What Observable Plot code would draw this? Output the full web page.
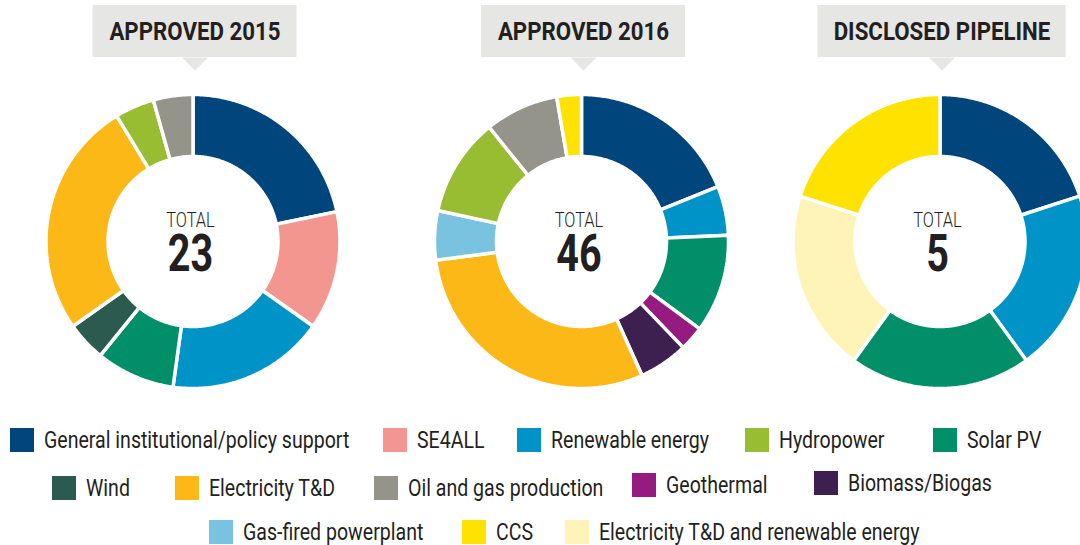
<!DOCTYPE html>
<html><head><meta charset="utf-8">
<script src="https://cdn.jsdelivr.net/npm/d3@7"></script>
<script src="https://cdn.jsdelivr.net/npm/@observablehq/plot@0.6"></script>
<style>
html,body{margin:0;padding:0;background:#fff;}
#wrap{position:relative;width:1080px;height:545px;overflow:hidden;font-family:Roboto,"Liberation Sans",sans-serif;color:#231f20;}
#chart{position:absolute;left:0;top:0;}
.item{position:absolute;height:24px;}
.sw{position:absolute;left:0;top:0;width:24px;height:24px;}
.lab{position:absolute;left:34px;top:-2px;font-size:23px;line-height:30px;white-space:nowrap;transform:scaleX(0.85);transform-origin:0 50%;}
</style></head><body>
<div id="wrap"><div id="chart"></div><div id="legend"></div></div>
<script>
// ---- data ----
const categories = ["General institutional/policy support","SE4ALL","Renewable energy","Hydropower","Solar PV",
  "Wind","Electricity T&D","Oil and gas production","Geothermal","Biomass/Biogas",
  "Gas-fired powerplant","CCS","Electricity T&D and renewable energy"];
const categoryColors = ["#00457c","#f3968f","#0093c8","#98bd33","#008f68",
  "#2b5a4e","#fbb817","#94948a","#951b81","#3d2050",
  "#79c3e0","#ffe200","#fff4b8"];
const panelTitles = ["APPROVED 2015","APPROVED 2016","DISCLOSED PIPELINE"];
const panelTotals = [23, 46, 5];
const cats2015 = ["General institutional/policy support","SE4ALL","Renewable energy","Solar PV","Wind","Electricity T&D","Hydropower","Oil and gas production"];
const vals2015 = [5, 3, 4, 2, 1, 6, 1, 1];
const cats2016 = ["General institutional/policy support","Renewable energy","Solar PV","Geothermal","Biomass/Biogas","Electricity T&D","Gas-fired powerplant","Hydropower","Oil and gas production","CCS"];
const vals2016 = [7, 2, 4, 1, 2, 11, 2, 4, 3, 1];
const catsPipe = ["General institutional/policy support","Renewable energy","Solar PV","Electricity T&D and renewable energy","CCS"];
const valsPipe = [1, 1, 1, 1, 1];

// ---- layout ----
const W = 1080, H = 410;
const centersX = [192.5, 581, 939.5], cy = 241, R = 147, r = 85;
const boxW = [204, 204, 248], boxShift = 2;

const panels = [[cats2015, vals2015],[cats2016, vals2016],[catsPipe, valsPipe]];
const arcRows = [];
panels.forEach(([cats, vals], p) => {
  const arcs = d3.pie().sort(null).value(d => d)(vals);
  arcs.forEach((a, i) => {
    const key = p + "-" + i;
    const n = Math.max(2, Math.ceil((a.endAngle - a.startAngle) / 0.01) + 1);
    const pts = [];
    for (let k = 0; k < n; k++) { const t = a.startAngle + (a.endAngle - a.startAngle) * k / (n - 1); pts.push([R, t]); }
    for (let k = n - 1; k >= 0; k--) { const t = a.startAngle + (a.endAngle - a.startAngle) * k / (n - 1); pts.push([r, t]); }
    pts.push(pts[0]);
    pts.forEach(([rad, t]) => arcRows.push({key, cat: cats[i], x: centersX[p] + rad * Math.sin(t), y: cy - rad * Math.cos(t)}));
  });
});

const panelRows = panelTitles.map((t, p) => ({title: t, total: String(panelTotals[p]), cx: centersX[p], bx: centersX[p] + boxShift,
  x1: centersX[p] + boxShift - boxW[p]/2, x2: centersX[p] + boxShift + boxW[p]/2}));
const triRows = [];
panelRows.forEach((d, p) => { [[-13,57],[13,57],[0,70]].forEach(([dx, y]) => triRows.push({p, x: d.bx + dx, y})); });

const plot = Plot.plot({
  width: W, height: H, margin: 0,
  x: {domain: [0, W], range: [0, W], axis: null},
  y: {domain: [0, H], range: [0, H], axis: null},
  color: {domain: categories, range: categoryColors},
  marks: [
    Plot.rect(panelRows, {x1: "x1", x2: "x2", y1: 5, y2: 57, fill: "#e6e6e5"}),
    Plot.line(triRows, {x: "x", y: "y", z: "p", fill: "#e6e6e5", stroke: null}),
    Plot.line(arcRows, {x: "x", y: "y", z: "key", fill: "cat", stroke: "white", strokeWidth: 3.5, strokeLinejoin: "miter", curve: "linear"}),
    Plot.text(panelRows, {x: "bx", y: 31.5, text: "title", fontSize: 26.5, fontWeight: 700, fill: "#231f20", lineAnchor: "middle"}),
    Plot.text(panelRows, {x: "cx", dx: -2.5, y: 220, text: () => "TOTAL", fontSize: 19.5, fontWeight: 300, fill: "#231f20", lineAnchor: "middle"}),
    Plot.text(panelRows, {x: "cx", dx: -2.5, y: 254, text: "total", fontSize: 52, fontWeight: 700, fill: "#231f20", lineAnchor: "middle"})
  ]
});
plot.style.fontFamily = "Roboto, sans-serif";
document.getElementById("chart").appendChild(plot);

function condenseAll() {
  plot.querySelectorAll("text").forEach(t => {
    const s = t.textContent.trim();
    let k = null;
    if (panelTitles.includes(s)) k = 0.84;
    else if (s === "TOTAL") k = 0.84;
    else if (/^\d+$/.test(s)) k = 0.76;
    if (k == null) return;
    t.removeAttribute("textLength");
    const w = t.getComputedTextLength();
    if (w > 0) {
      t.setAttribute("textLength", (w * k).toFixed(1));
      t.setAttribute("lengthAdjust", "spacingAndGlyphs");
    }
  });
}
condenseAll();
if (document.fonts && document.fonts.ready) document.fonts.ready.then(condenseAll);

// ---- legend (HTML) ----
const legendPos = [[10,428],[383,428],[517,428],[745,428],[933,428],
  [52,476],[175,476],[374,476],[632,473],[814,471],
  [209,520],[462,520],[565,520]];
const legend = document.getElementById("legend");
categories.forEach((c, i) => {
  const it = document.createElement("div");
  it.className = "item";
  it.style.left = legendPos[i][0] + "px";
  it.style.top = legendPos[i][1] + "px";
  const sw = document.createElement("div");
  sw.className = "sw"; sw.style.background = categoryColors[i];
  const lab = document.createElement("span");
  lab.className = "lab"; lab.textContent = c;
  it.appendChild(sw); it.appendChild(lab);
  legend.appendChild(it);
});
</script>
</body></html>
